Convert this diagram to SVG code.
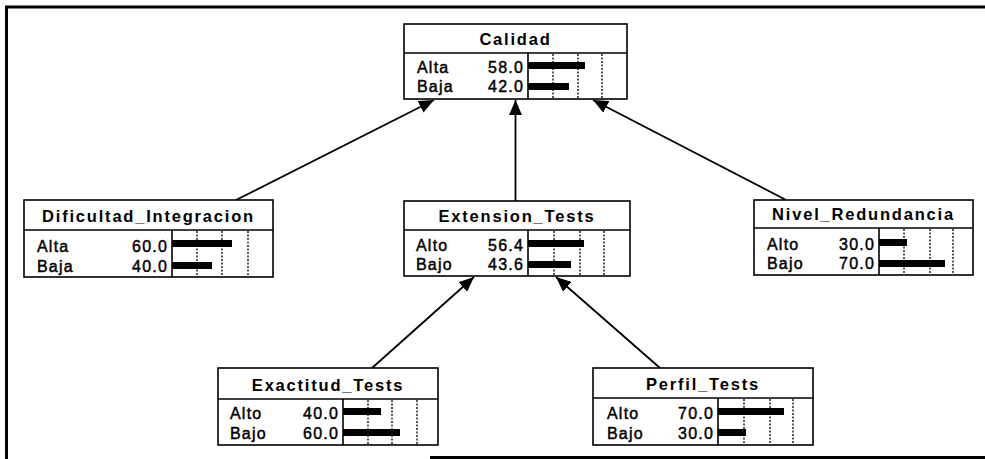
<svg xmlns="http://www.w3.org/2000/svg" width="985" height="459" viewBox="0 0 985 459">
  <style>
    .box { fill: #ffffff; stroke: #000000; stroke-width: 1.6; }
    .sep { stroke: #000000; stroke-width: 1.6; fill: none; }
    .grid { stroke: #000000; stroke-width: 1.3; stroke-dasharray: 2 1.5; fill: none; }
    .bar { fill: #000000; }
    .title { font-family: "Liberation Sans", Arial, sans-serif; font-weight: bold; font-size: 16.5px; letter-spacing: 1.8px; text-anchor: middle; fill: #000; }
    .lab { font-family: "Liberation Sans", Arial, sans-serif; font-size: 16px; letter-spacing: 1.2px; fill: #000; stroke: #000; stroke-width: 0.45px; }
    .val { font-family: "Liberation Sans", Arial, sans-serif; font-size: 16px; letter-spacing: 1.2px; text-anchor: end; fill: #000; stroke: #000; stroke-width: 0.45px; }
    .edge { stroke: #000000; stroke-width: 1.8; fill: none; marker-end: url(#arrow); }
    .frame { stroke: #000000; stroke-width: 3; fill: none; }
  </style>
  <defs>
    <marker id="arrow" viewBox="0 0 15 13" refX="15" refY="6.5" markerWidth="15" markerHeight="13" orient="auto" markerUnits="userSpaceOnUse">
      <path d="M0,0 L15,6.5 L0,13 z" fill="#000000"/>
    </marker>
  </defs>

  <rect width="985" height="459" fill="#ffffff"/>

  <!-- outer frame -->
  <path class="frame" d="M985,7 H6.5 V459"/>
  <path class="frame" d="M430,457.5 H985"/>

  <!-- connectors -->
  <g id="connectors">
    <line class="edge" x1="236" y1="200" x2="434" y2="100"/>
    <line class="edge" x1="515.5" y1="201" x2="515.5" y2="100"/>
    <line class="edge" x1="786" y1="200" x2="593" y2="100"/>
    <line class="edge" x1="372" y1="368" x2="474" y2="277"/>
    <line class="edge" x1="660" y1="368" x2="556" y2="277"/>
  </g>

  <!-- Calidad -->
  <g id="calidad">
    <rect class="box" x="404" y="24" width="223" height="75"/>
    <line class="sep" x1="404" y1="53" x2="627" y2="53"/>
    <line class="sep" x1="528" y1="53" x2="528" y2="99"/>
    <path class="grid" d="M553,54 V98 M578,54 V98 M602,54 V98"/>
    <text class="title" x="515.5" y="45">Calidad</text>
    <text class="lab" x="417" y="73">Alta</text>
    <text class="val" x="524" y="73">58.0</text>
    <text class="lab" x="417" y="92">Baja</text>
    <text class="val" x="524" y="92">42.0</text>
    <rect class="bar" x="528" y="62" width="57" height="7"/>
    <rect class="bar" x="528" y="83" width="41" height="7"/>
  </g>

  <!-- Dificultad_Integracion -->
  <g id="dificultad_integracion">
    <rect class="box" x="24" y="200" width="249" height="77"/>
    <line class="sep" x1="24" y1="230" x2="273" y2="230"/>
    <line class="sep" x1="172" y1="230" x2="172" y2="277"/>
    <path class="grid" d="M197,231 V276 M222,231 V276 M248,231 V276"/>
    <text class="title" x="148.5" y="222">Dificultad_Integracion</text>
    <text class="lab" x="37" y="252">Alta</text>
    <text class="val" x="168" y="252">60.0</text>
    <text class="lab" x="37" y="272">Baja</text>
    <text class="val" x="168" y="272">40.0</text>
    <rect class="bar" x="172" y="240" width="60" height="7"/>
    <rect class="bar" x="172" y="262" width="40" height="7"/>
  </g>

  <!-- Extension_Tests -->
  <g id="extension_tests">
    <rect class="box" x="404" y="201" width="226" height="75"/>
    <line class="sep" x1="404" y1="230" x2="630" y2="230"/>
    <line class="sep" x1="528" y1="230" x2="528" y2="276"/>
    <path class="grid" d="M554,231 V275 M580,231 V275 M604,231 V275"/>
    <text class="title" x="517" y="222">Extension_Tests</text>
    <text class="lab" x="416" y="251">Alto</text>
    <text class="val" x="524" y="251">56.4</text>
    <text class="lab" x="416" y="270">Bajo</text>
    <text class="val" x="524" y="270">43.6</text>
    <rect class="bar" x="528" y="240" width="56" height="7"/>
    <rect class="bar" x="528" y="261" width="43" height="7"/>
  </g>

  <!-- Nivel_Redundancia -->
  <g id="nivel_redundancia">
    <rect class="box" x="754" y="200" width="219" height="75"/>
    <line class="sep" x1="754" y1="228" x2="973" y2="228"/>
    <line class="sep" x1="879" y1="228" x2="879" y2="275"/>
    <path class="grid" d="M904,229 V274 M930,229 V274 M953,229 V274"/>
    <text class="title" x="863.5" y="220">Nivel_Redundancia</text>
    <text class="lab" x="767" y="250">Alto</text>
    <text class="val" x="875" y="250">30.0</text>
    <text class="lab" x="767" y="269">Bajo</text>
    <text class="val" x="875" y="269">70.0</text>
    <rect class="bar" x="879" y="239" width="28" height="7"/>
    <rect class="bar" x="879" y="260" width="66" height="7"/>
  </g>

  <!-- Exactitud_Tests -->
  <g id="exactitud_tests">
    <rect class="box" x="218" y="368" width="220" height="77"/>
    <line class="sep" x1="218" y1="399" x2="438" y2="399"/>
    <line class="sep" x1="343" y1="399" x2="343" y2="445"/>
    <path class="grid" d="M368,400 V444 M392,400 V444 M417,400 V444"/>
    <text class="title" x="328" y="391">Exactitud_Tests</text>
    <text class="lab" x="230" y="419">Alto</text>
    <text class="val" x="339" y="419">40.0</text>
    <text class="lab" x="230" y="439">Bajo</text>
    <text class="val" x="339" y="439">60.0</text>
    <rect class="bar" x="343" y="408" width="38" height="7"/>
    <rect class="bar" x="343" y="429" width="57" height="7"/>
  </g>

  <!-- Perfil_Tests -->
  <g id="perfil_tests">
    <rect class="box" x="593" y="368" width="220" height="77"/>
    <line class="sep" x1="593" y1="398" x2="813" y2="398"/>
    <line class="sep" x1="718" y1="398" x2="718" y2="445"/>
    <path class="grid" d="M744,399 V444 M770,399 V444 M793,399 V444"/>
    <text class="title" x="703" y="390">Perfil_Tests</text>
    <text class="lab" x="607" y="419">Alto</text>
    <text class="val" x="714" y="419">70.0</text>
    <text class="lab" x="607" y="439">Bajo</text>
    <text class="val" x="714" y="439">30.0</text>
    <rect class="bar" x="718" y="408" width="66" height="7"/>
    <rect class="bar" x="718" y="429" width="28" height="7"/>
  </g>
</svg>
